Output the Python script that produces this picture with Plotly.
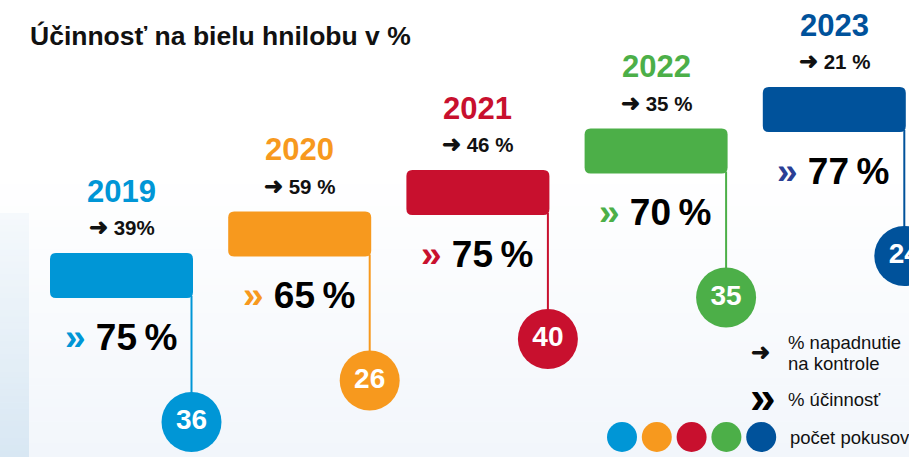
import plotly.graph_objects as go

# ---- data ----
years = ["2019", "2020", "2021", "2022", "2023"]
infestation = [39, 59, 46, 35, 21]          # % napadnutie na kontrole
efficacy = [75, 65, 75, 70, 77]             # % účinnosť
trials = [36, 26, 40, 35, 24]               # počet pokusov
infest_labels = ["39%", "59 %", "46 %", "35 %", "21 %"]

title_text = "Účinnosť na bielu hnilobu v %"
legend_texts = ["% napadnutie", "na kontrole", "% účinnosť", "počet pokusov"]

# ---- styles ----
colors = ["#0096d6", "#f7991e", "#c8102e", "#4caf48", "#00529b"]
chev_colors = ["#0096d6", "#f7991e", "#c8102e", "#4caf48", "#2b3f95"]
W, H = 909, 457
FONT = "Liberation Sans, Arial, Helvetica, sans-serif"

# layout geometry (pixel-like axis units)
X0, DX = 50.0, 178.2
Y0, DY = 253.0, 41.5
RW, RH = 143.0, 45.0
STEM_DX = 141.5
CIRC_DY = 169.0

fig = go.Figure()
shapes = []
annotations = []

def mix(c1, c2, t):
    return "rgb(%d,%d,%d)" % tuple(round(a + (b - a) * t) for a, b in zip(c1, c2))

# background gradient bands (main area)
NB = 40
g0, g1 = 170.0, H
for k in range(NB):
    y_a = g0 + (g1 - g0) * k / NB
    y_b = g0 + (g1 - g0) * (k + 1) / NB + 0.6
    shapes.append(dict(type="rect", xref="x", yref="y", x0=0, x1=W, y0=y_a, y1=y_b,
                       fillcolor=mix((255, 255, 255), (242, 246, 251), (k + 0.5) / NB),
                       line=dict(width=0), layer="below"))
# left strip
s0 = 213.0
for k in range(NB):
    y_a = s0 + (H - s0) * k / NB
    y_b = s0 + (H - s0) * (k + 1) / NB + 0.6
    shapes.append(dict(type="rect", xref="x", yref="y", x0=0, x1=29, y0=y_a, y1=y_b,
                       fillcolor=mix((245, 249, 252), (216, 231, 243), (k + 0.5) / NB),
                       line=dict(width=0), layer="below"))

def rounded_rect(x0, y0, x1, y1, r):
    return (f"M {x0+r},{y0} L {x1-r},{y0} Q {x1},{y0} {x1},{y0+r} "
            f"L {x1},{y1-r} Q {x1},{y1} {x1-r},{y1} L {x0+r},{y1} "
            f"Q {x0},{y1} {x0},{y1-r} L {x0},{y0+r} Q {x0},{y0} {x0+r},{y0} Z")

ARROW = "<span style='font-size:23px'>➜</span>"

circ_x, circ_y = [], []
for i, yr in enumerate(years):
    L = X0 + i * DX
    T = Y0 - i * DY
    cx = L + RW / 2
    # block
    shapes.append(dict(type="path", xref="x", yref="y",
                       path=rounded_rect(L, T, L + RW, T + RH, 6),
                       fillcolor=colors[i], line=dict(width=0)))
    # stem
    fig.add_trace(go.Scatter(x=[L + STEM_DX, L + STEM_DX], y=[T + RH - 2, T + CIRC_DY],
                             mode="lines", line=dict(color=colors[i], width=2),
                             hoverinfo="skip", showlegend=False))
    circ_x.append(L + STEM_DX)
    circ_y.append(T + CIRC_DY)
    # year
    annotations.append(dict(x=cx, y=T - 62, text=f"<b>{yr}</b>",
                            font=dict(family=FONT, size=31, color=colors[i]),
                            xanchor="center", yanchor="middle"))
    # infestation
    annotations.append(dict(x=cx, y=T - 26, text=f"<b>{ARROW} {infest_labels[i]}</b>",
                            font=dict(family=FONT, size=20.5, color="#111111"),
                            xanchor="center", yanchor="middle"))
    # efficacy
    annotations.append(dict(x=cx - 1, y=T + 84,
                            text=f"<b><span style='color:{chev_colors[i]}'>»</span> {efficacy[i]}\u2009%</b>",
                            font=dict(family=FONT, size=37, color="#000000"),
                            xanchor="center", yanchor="middle"))

# trial circles
fig.add_trace(go.Scatter(x=circ_x, y=circ_y, mode="markers+text",
                         marker=dict(size=60, color=colors, line=dict(width=0)),
                         text=[f"<b>{t}</b>" for t in trials], textposition="middle center",
                         textfont=dict(family=FONT, size=28, color="white"),
                         hoverinfo="skip", showlegend=False))

# legend circles
leg_x = [622 + 34.8 * i for i in range(len(colors))]
fig.add_trace(go.Scatter(x=leg_x, y=[437] * len(colors), mode="markers",
                         marker=dict(size=30, color=colors, line=dict(width=0)),
                         hoverinfo="skip", showlegend=False))

# legend texts
LF = 18.5
annotations += [
    dict(x=760, y=352, text="<b>➜</b>", font=dict(family=FONT, size=23, color="#111"),
         xanchor="center", yanchor="middle"),
    dict(x=786, y=342, text=legend_texts[0], font=dict(family=FONT, size=LF, color="#111"),
         xanchor="left", yanchor="middle"),
    dict(x=786, y=363, text=legend_texts[1], font=dict(family=FONT, size=LF, color="#111"),
         xanchor="left", yanchor="middle"),
    dict(x=763, y=397, text="<b>»</b>", font=dict(family=FONT, size=46, color="#000"),
         xanchor="center", yanchor="middle"),
    dict(x=786, y=399, text=legend_texts[2], font=dict(family=FONT, size=LF, color="#111"),
         xanchor="left", yanchor="middle"),
    dict(x=788, y=437, text=legend_texts[3], font=dict(family=FONT, size=LF, color="#111"),
         xanchor="left", yanchor="middle"),
    dict(x=28, y=36, text=f"<b>{title_text}</b>", font=dict(family=FONT, size=26.5, color="#111"),
         xanchor="left", yanchor="middle"),
]
for a in annotations:
    a["xref"] = "x"
    a["yref"] = "y"
    a["showarrow"] = False

fig.update_layout(
    width=W, height=H, margin=dict(l=0, r=0, t=0, b=0),
    paper_bgcolor="white", plot_bgcolor="white",
    xaxis=dict(range=[0, W], visible=False, fixedrange=True),
    yaxis=dict(range=[H, 0], visible=False, fixedrange=True),
    shapes=shapes, annotations=annotations, showlegend=False,
)
fig.write_html("out.html", config=dict(displayModeBar=False),
               post_script="document.body.style.margin='0';document.body.style.overflow='hidden';")
